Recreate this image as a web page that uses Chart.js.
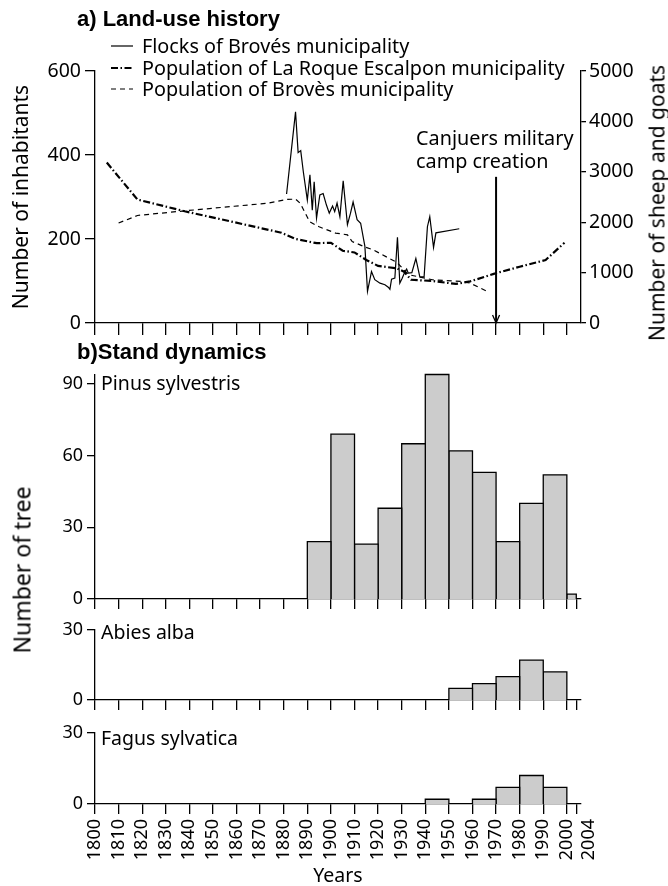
<!DOCTYPE html>
<html>
<head>
<meta charset="utf-8">
<title>Land-use history and stand dynamics</title>
<script src="https://cdn.jsdelivr.net/npm/chart.js@4.4.1/dist/chart.umd.min.js"></script>
<style>
  body { margin: 0; background: #fff; }
  #page { position: relative; width: 668px; height: 886px; overflow: hidden; background: #fff; color: #000; font-family: "Noto Sans", sans-serif; }
  #page canvas { position: absolute; left: 0; }
  .panel-title { position: absolute; left: 77px; font: bold 22px "Liberation Sans", Arial, sans-serif; line-height: 1; white-space: nowrap; }
  .label { position: absolute; font-size: 19.5px; line-height: 1; white-space: nowrap; }
  .vtitle { position: absolute; font-size: 21px; line-height: 1; white-space: nowrap; transform: translate(-50%, -50%) rotate(-90deg); }
  #legend { position: absolute; left: 111px; top: 35px; font-size: 19.8px; }
  .legend-row { display: flex; align-items: center; height: 21.7px; line-height: 21.7px; white-space: nowrap; }
  .legend-row svg { margin-right: 9px; }
</style>
</head>
<body>
<div id="page">
  <canvas id="landUse" width="668" height="345" style="top:0"></canvas>
  <canvas id="pinus" width="668" height="260" style="top:355px"></canvas>
  <canvas id="abies" width="668" height="101" style="top:615px"></canvas>
  <canvas id="fagus" width="668" height="168" style="top:718px"></canvas>

  <div class="panel-title" style="top:8px">a) Land-use history</div>
  <div id="legend"></div>
  <div class="vtitle" style="left:657px;top:203px">Number of sheep and goats</div>

  <div class="panel-title" style="top:341px">b)Stand dynamics</div>
  <div class="label" style="left:101px;top:373px">Pinus sylvestris</div>
  <div class="label" style="left:101px;top:622px">Abies alba</div>
  <div class="label" style="left:101px;top:728px">Fagus sylvatica</div>
  <div class="vtitle" style="left:22px;top:570px;font-size:23px">Number of tree</div>
</div>
<script>
// a) land-use history
var laRoqueYears = [1805, 1818, 1838, 1859, 1879, 1885, 1894, 1900, 1905, 1910, 1915, 1920, 1928, 1931, 1934, 1943, 1953, 1959, 1969, 1980, 1991, 1999];
var laRoquePop = [382, 294, 266, 240, 215, 200, 190, 191, 172, 168, 150, 136, 130, 122, 103, 100, 93, 99, 117, 134, 150, 191];

var brovesYears = [1810, 1818, 1838, 1859, 1873, 1881, 1885, 1887, 1891, 1895, 1902, 1907, 1909, 1914, 1918, 1928, 1933, 1943, 1955, 1959, 1967];
var brovesPop = [238, 256, 267, 278, 285, 294, 295, 285, 241, 229, 214, 210, 194, 182, 174, 144, 115, 103, 99, 95, 73];

var flockYears = [1881.2, 1885, 1886.1, 1887.2, 1888.3, 1890, 1891.1, 1892.1, 1892.9, 1893.9, 1895.3, 1896.7, 1898.1, 1899.3,
  1900.7, 1901.6, 1902.6, 1903.8, 1905.2, 1907, 1908.3, 1909.4, 1911.1, 1912.6, 1914.4, 1915.5, 1917.2, 1918.6,
  1920.8, 1922.9, 1924.3, 1925, 1925.7, 1927.1, 1928.2, 1929.2, 1930.2, 1931.4, 1932.1, 1932.8, 1934.3, 1936,
  1937.7, 1939.5, 1940.9, 1941.9, 1943.5, 1944.5, 1954.4];
var flockSize = [2560, 4190, 3380, 3420, 3000, 2440, 2940, 2240, 2800, 2080, 2540, 2570, 2340, 2180,
  2320, 2210, 2380, 2110, 2820, 1950, 2180, 2400, 2050, 1980, 1520, 630, 1020, 860,
  790, 760, 710, 670, 870, 890, 1700, 790, 890, 1020, 1070, 990, 1000, 1280,
  910, 920, 1910, 2110, 1500, 1790, 1870];

var campYear = 1970;
var campArrowTop = 2900; // sheep-axis level where the arrow starts

var topTickYears = [1800, 1810, 1820, 1830, 1840, 1850, 1860, 1870, 1880, 1890, 1900,
  1910, 1920, 1930, 1940, 1950, 1960, 1970, 1980, 1990, 2000];

// b) stand dynamics: trees per establishment period
var binEdges = [1890, 1900, 1910, 1920, 1930, 1940, 1950, 1960, 1970, 1980, 1990, 2000, 2004];
var pinusCounts = [24, 69, 23, 38, 65, 94, 62, 53, 24, 40, 52, 2];
var abiesCounts = [0, 0, 0, 0, 0, 0, 5, 7, 10, 17, 12, 0];
var fagusCounts = [0, 0, 0, 0, 0, 2, 0, 2, 7, 12, 7, 0];
var standTickYears = topTickYears.concat([2004]);

var black = '#000';
var fam = 'Noto Sans';

function toPoints(xs, ys) {
  return xs.map(function(x, i) { return { x: x, y: ys[i] }; });
}

function axisStyle(tickLength) {
  return {
    grid: { drawOnChartArea: false, drawTicks: true, tickLength: tickLength, color: black, lineWidth: 1.3 },
    border: { display: true, color: black, width: 1.3 }
  };
}

// arrowhead + text for the military camp
var campNote = {
  id: 'campNote',
  afterDatasetsDraw: function(chart) {
    var ctx = chart.ctx;
    var x = chart.scales.x.getPixelForValue(campYear);
    var yTop = chart.scales.y1.getPixelForValue(campArrowTop);
    var yBase = chart.scales.y1.getPixelForValue(0);
    ctx.save();
    ctx.strokeStyle = black;
    ctx.lineWidth = 1.3;
    ctx.beginPath();
    ctx.moveTo(x - 3.5, yBase - 8);
    ctx.lineTo(x, yBase);
    ctx.lineTo(x + 3.5, yBase - 8);
    ctx.stroke();
    ctx.fillStyle = black;
    ctx.font = '19.8px "' + fam + '"';
    ctx.textAlign = 'left';
    ctx.textBaseline = 'alphabetic';
    ctx.fillText('Canjuers military', x - 80, yTop - 32);
    ctx.fillText('camp creation', x - 80, yTop - 8.5);
    ctx.restore();
  }
};

var xTop = Object.assign({
  type: 'linear', min: 1800, max: 2006,
  afterBuildTicks: function(s) { s.ticks = topTickYears.map(function(v) { return { value: v }; }); },
  ticks: { display: false },
  afterFit: function(s) { s.height = 22; }
}, axisStyle(12));

var yLeft = Object.assign({
  position: 'left', min: 0, max: 600,
  ticks: { stepSize: 200, color: black, padding: 4, font: { family: fam, size: 19.5 }, callback: function(v) { return String(v); } },
  title: { display: true, text: 'Number of inhabitants', color: black, font: { family: fam, size: 21, lineHeight: 1 }, padding: { top: 12, bottom: 0 } },
  afterFit: function(s) { s.width = 95; }
}, axisStyle(10));

var yRight = Object.assign({
  position: 'right', min: 0, max: 5000,
  ticks: { stepSize: 1000, color: black, padding: 3, font: { family: fam, size: 19.5 }, callback: function(v) { return String(v); } },
  afterFit: function(s) { s.width = 87; }
}, axisStyle(5));

var landUse = new Chart(document.getElementById('landUse'), {
  type: 'line',
  data: {
    datasets: [
      { label: 'Flocks of Brovés municipality', data: toPoints(flockYears, flockSize), yAxisID: 'y1',
        borderColor: black, borderWidth: 1.2, borderDash: [] },
      { label: 'Population of La Roque Escalpon municipality', data: toPoints(laRoqueYears, laRoquePop), yAxisID: 'y',
        borderColor: black, borderWidth: 2.2, borderDash: [7, 2.5, 1.5, 2.5] },
      { label: 'Population of Brovès municipality', data: toPoints(brovesYears, brovesPop), yAxisID: 'y',
        borderColor: black, borderWidth: 1.2, borderDash: [5, 4] },
      { data: [{ x: campYear, y: 0 }, { x: campYear, y: campArrowTop }], yAxisID: 'y1',
        borderColor: black, borderWidth: 2 }
    ]
  },
  options: {
    responsive: false,
    animation: false,
    layout: { padding: { top: 71, left: 0, right: 0, bottom: 0 } },
    elements: { point: { radius: 0 }, line: { tension: 0, fill: false } },
    plugins: { legend: { display: false }, tooltip: { enabled: false }, colors: { enabled: false } },
    scales: { x: xTop, y: yLeft, y1: yRight }
  },
  plugins: [campNote]
});

// html legend built from the datasets
var legendBox = document.getElementById('legend');
landUse.data.datasets.forEach(function(ds) {
  if (!ds.label) return;
  var dash = ds.borderDash.length ? ds.borderDash.join(' ') : 'none';
  var row = document.createElement('div');
  row.className = 'legend-row';
  row.innerHTML = '<svg width="22" height="6"><line x1="0" y1="3" x2="22" y2="3" stroke="#000" stroke-width="' +
    ds.borderWidth + '" stroke-dasharray="' + dash + '"/></svg><span>' + ds.label + '</span>';
  legendBox.appendChild(row);
});

// one closed outline per bin so each bar keeps its own border
function barSets(counts) {
  var sets = [];
  counts.forEach(function(n, i) {
    if (!n) return;
    var x0 = binEdges[i], x1 = binEdges[i + 1];
    sets.push({
      data: [{ x: x0, y: 0 }, { x: x0, y: n }, { x: x1, y: n }, { x: x1, y: 0 }],
      borderColor: black, borderWidth: 1.3, backgroundColor: '#cccccc',
      fill: 'origin', clip: false
    });
  });
  return sets;
}

function standChart(id, counts, yMax, yTicks, padTop, xHeight, showYears) {
  var xOpts = Object.assign({
    type: 'linear', min: 1800, max: 2006,
    afterBuildTicks: function(s) { s.ticks = standTickYears.map(function(v) { return { value: v }; }); },
    ticks: { display: false },
    afterFit: function(s) { s.height = xHeight; }
  }, axisStyle(10));
  if (showYears) {
    xOpts.ticks = {
      display: true, autoSkip: false, minRotation: 90, maxRotation: 90, padding: 5, color: black,
      font: function(c) {
        // 2004 is nudged right of its tick, as in the original figure
        return c.tick && c.tick.value === 2004 ? { family: fam, size: 18, lineHeight: 0.68 } : { family: fam, size: 18, lineHeight: 1.2 };
      },
      callback: function(v) { return v === 2004 ? ['', '2004'] : String(v); }
    };
    xOpts.title = { display: true, text: 'Years', color: black, font: { family: fam, size: 19.5, lineHeight: 1 }, padding: { top: 0, bottom: 0 } };
  }
  return new Chart(document.getElementById(id), {
    type: 'line',
    data: { datasets: barSets(counts) },
    options: {
      responsive: false,
      animation: false,
      layout: { padding: { top: padTop, right: 87, left: 0, bottom: 0 } },
      elements: { point: { radius: 0 }, line: { tension: 0 } },
      plugins: { legend: { display: false }, tooltip: { enabled: false }, colors: { enabled: false } },
      scales: {
        x: xOpts,
        y: Object.assign({
          min: 0, max: yMax,
          afterBuildTicks: function(s) { s.ticks = yTicks.map(function(v) { return { value: v }; }); },
          ticks: { color: black, padding: 4, font: { family: fam, size: 18 }, callback: function(v) { return String(v); } },
          afterFit: function(s) { s.width = 95; }
        }, axisStyle(8))
      }
    }
  });
}

standChart('pinus', pinusCounts, 94, [0, 30, 60, 90], 19.5, 16, false);
standChart('abies', abiesCounts, 30, [0, 30], 13, 16, false);
standChart('fagus', fagusCounts, 30, [0, 30], 14, 82, true);
</script>
</body>
</html>
